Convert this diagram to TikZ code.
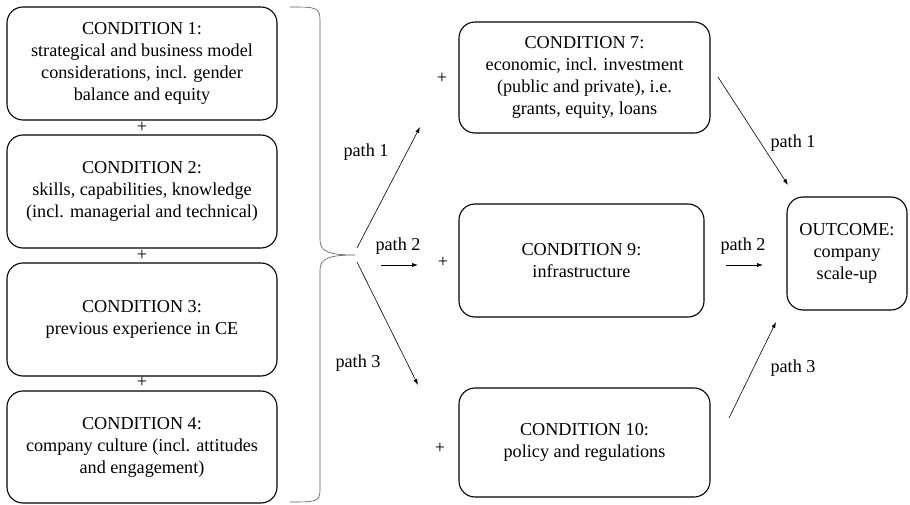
\documentclass[tikz,border=0pt]{standalone}
\usepackage{fontspec}
\setmainfont{Liberation Serif}
\usetikzlibrary{arrows.meta}
\begin{document}
\begin{tikzpicture}[x=1pt,y=-1pt,
  box/.style={draw, line width=1.1pt, rounded corners=16pt, align=center, inner sep=0pt},
  arr/.style={-{Latex[length=6pt,width=4pt]}, line width=0.6pt},
  lbl/.style={inner sep=0pt, font=\fontsize{18.2}{22}\selectfont},
  every node/.style={font=\fontsize{18.2}{22}\selectfont}]
\useasboundingbox (0,0) rectangle (910,505);
% left boxes
\node[box, minimum width=270pt, minimum height=113pt] (c1) at (142,63.5) {CONDITION 1:\\strategical and business model\\considerations, incl. gender\\balance and equity};
\node[box, minimum width=270pt, minimum height=113pt] (c2) at (142,191.5) {CONDITION 2:\\skills, capabilities, knowledge\\(incl. managerial and technical)};
\node[box, minimum width=270pt, minimum height=113pt] (c3) at (142,319.5) {CONDITION 3:\\previous experience in CE};
\node[box, minimum width=270pt, minimum height=112pt] (c4) at (142,447) {CONDITION 4:\\company culture (incl. attitudes\\and engagement)};
\node[lbl] (p12) at (142,127.5) {+};
\node[lbl] (p23) at (142,255.5) {+};
\node[lbl] (p34) at (142,382.5) {+};
% brace
\draw[line width=0.6pt, gray!70!black] (290,7) .. controls (315,7) and (320,7) .. (320,20) -- (320,240) .. controls (320,252) and (330,255) .. (355,255)
  .. controls (330,255) and (320,258) .. (320,270) -- (320,490) .. controls (320,502) and (315,502) .. (290,502);
\coordinate (tip) at (355,255);
\coordinate (s1) at (357,248);
\coordinate (s3) at (357,262);
\coordinate (e1) at (420,127);
\coordinate (e3) at (418,385);
\coordinate (a2s) at (381,265);
\coordinate (a2e) at (418,265);
\draw[arr] (s1) -- (e1);
\draw[arr] (s3) -- (e3);
\draw[arr] (a2s) -- (a2e);
\node[lbl] (l1) at (366,152) {path 1};
\node[lbl] (l2) at (398,246) {path 2};
\node[lbl] (l3) at (358,363) {path 3};
\node[lbl] (q7) at (442,78) {+};
\node[lbl] (q9) at (443,262) {+};
\node[lbl] (q10) at (440,448) {+};
% right boxes
\node[box, minimum width=251pt, minimum height=111pt] (c7) at (584.5,77.5) {CONDITION 7:\\economic, incl. investment\\(public and private), i.e.\\grants, equity, loans};
\node[box, minimum width=245pt, minimum height=113pt] (c9) at (581.5,260.5) {CONDITION 9:\\infrastructure};
\node[box, minimum width=251pt, minimum height=109pt] (c10) at (584.5,442.5) {CONDITION 10:\\policy and regulations};
\node[box, minimum width=120pt, minimum height=113pt] (out) at (847,253.5) {OUTCOME:\\company\\scale-up};
\coordinate (f1s) at (718,77);
\coordinate (f1e) at (788,185);
\coordinate (f2s) at (726,265);
\coordinate (f2e) at (763,265);
\coordinate (f3s) at (729,418);
\coordinate (f3e) at (776,322);
\draw[arr] (f1s) -- (f1e);
\draw[arr] (f2s) -- (f2e);
\draw[arr] (f3s) -- (f3e);
\node[lbl] (m1) at (793,143) {path 1};
\node[lbl] (m2) at (743,246) {path 2};
\node[lbl] (m3) at (793,368) {path 3};
\end{tikzpicture}
\end{document}
